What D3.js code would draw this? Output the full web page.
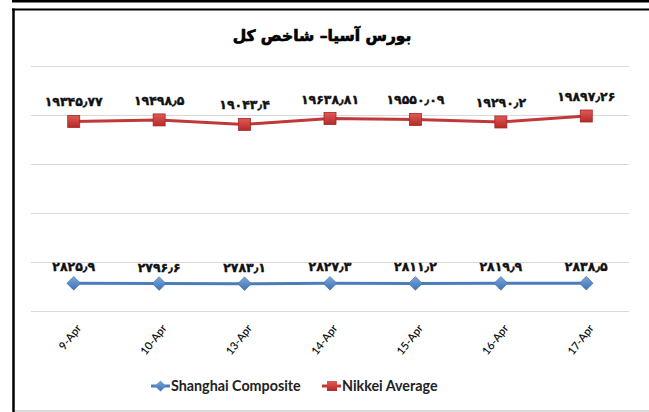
<!DOCTYPE html>
<html><head><meta charset="utf-8">
<script src="https://cdn.jsdelivr.net/npm/d3@7/dist/d3.min.js"></script>
<style>html,body{margin:0;padding:0;background:#fff;}svg{display:block;}</style>
</head><body>
<script>
const title = "بورس آسیا– شاخص کل";
const categories = ["9-Apr","10-Apr","13-Apr","14-Apr","15-Apr","16-Apr","17-Apr"];
const shanghai = [2825.9, 2796.6, 2783.1, 2827.3, 2811.2, 2819.9, 2838.5];
const nikkei = [19345.77, 19498.5, 19043.4, 19638.81, 19550.09, 19290.2, 19897.26];
const shanghaiLabels = ["۲۸۲۵٫۹","۲۷۹۶٫۶","۲۷۸۳٫۱","۲۸۲۷٫۳","۲۸۱۱٫۲","۲۸۱۹٫۹","۲۸۳۸٫۵"];
const nikkeiLabels = ["۱۹۳۴۵٫۷۷","۱۹۴۹۸٫۵","۱۹۰۴۳٫۴","۱۹۶۳۸٫۸۱","۱۹۵۵۰٫۰۹","۱۹۲۹۰٫۲","۱۹۸۹۷٫۲۶"];
const yTicks = [0, 5000, 10000, 15000, 20000, 25000];
const seriesNames = ["Shanghai Composite", "Nikkei Average"];

const W = 649, H = 412;
const svg = d3.select("body").append("svg").attr("width", W).attr("height", H);

// frame
svg.append("rect").attr("x", 12).attr("y", 0).attr("width", W - 12).attr("height", 2.5).attr("fill", "#000");
svg.append("line").attr("x1", 12).attr("x2", W).attr("y1", 9.5).attr("y2", 9.5).attr("stroke", "#000").attr("stroke-width", 2);
svg.append("line").attr("x1", 13.5).attr("x2", 13.5).attr("y1", 8.5).attr("y2", H).attr("stroke", "#000").attr("stroke-width", 2.5);
svg.append("line").attr("x1", 15).attr("x2", W).attr("y1", 411).attr("y2", 411).attr("stroke", "#ccc").attr("stroke-width", 1.5);

const defs = svg.append("defs");
const gR = defs.append("linearGradient").attr("id", "gR").attr("x1", 0).attr("y1", 0).attr("x2", 0).attr("y2", 1);
gR.append("stop").attr("offset", "0").attr("stop-color", "#e05a58");
gR.append("stop").attr("offset", "1").attr("stop-color", "#b42a26");
const gB = defs.append("linearGradient").attr("id", "gB").attr("x1", 0).attr("y1", 0).attr("x2", 0).attr("y2", 1);
gB.append("stop").attr("offset", "0").attr("stop-color", "#7aa6db");
gB.append("stop").attr("offset", "1").attr("stop-color", "#3f72b5");

const x = d3.scaleBand().domain(categories).range([31, 629]);
const y = d3.scaleLinear().domain([0, 25000]).range([311, 66]);
const cx = d => x(d) + x.bandwidth() / 2;

// gridlines
svg.append("g").selectAll("line").data(yTicks).join("line")
  .attr("x1", 31).attr("x2", 629)
  .attr("y1", d => Math.round(y(d)) + 0.5).attr("y2", d => Math.round(y(d)) + 0.5)
  .attr("stroke", "#d9d9d9").attr("stroke-width", 1.2);

// x axis labels
const xAxis = d3.axisBottom(x).tickSize(0).tickPadding(0);
const gx = svg.append("g").attr("transform", "translate(0,311)").call(xAxis);
gx.select(".domain").remove();
gx.selectAll("text")
  .attr("font-family", "Lato, 'Open Sans', sans-serif").attr("font-size", 11).attr("font-weight", 600).attr("fill", "#111")
  .attr("text-anchor", "end").attr("x", 0).attr("y", 0).attr("dy", "0.35em")
  .attr("transform", "translate(5,15) rotate(-52)");

// title
svg.append("text").attr("x", 322).attr("y", 41).attr("text-anchor", "middle")
  .attr("font-family", "'DejaVu Sans', sans-serif").attr("font-weight", "bold").attr("font-size", 15.5)
  .attr("stroke", "#000").attr("stroke-width", 0.7)
  .attr("direction", "rtl").attr("fill", "#000").text(title);

const lineGen = d3.line().x((d, i) => cx(categories[i])).y(d => y(d));

// Nikkei
svg.append("path").datum(nikkei).attr("d", lineGen).attr("fill", "none")
  .attr("stroke", "#c0393a").attr("stroke-width", 3);
svg.append("g").selectAll("rect").data(nikkei).join("rect")
  .attr("x", (d, i) => cx(categories[i]) - 6).attr("y", d => y(d) - 6)
  .attr("width", 12).attr("height", 12).attr("fill", "url(#gR)").attr("stroke", "#a52622").attr("stroke-width", 0.8);
svg.append("g").selectAll("text").data(nikkei).join("text")
  .attr("x", (d, i) => cx(categories[i])).attr("y", d => y(d) - 15)
  .attr("text-anchor", "middle").attr("font-family", "'DejaVu Sans', sans-serif").attr("font-weight", "bold")
  .attr("stroke", "#111").attr("stroke-width", 0.4)
  .attr("font-size", 12.5).attr("fill", "#111").text((d, i) => nikkeiLabels[i]);

// Shanghai
svg.append("path").datum(shanghai).attr("d", lineGen).attr("fill", "none")
  .attr("stroke", "#4a7ebb").attr("stroke-width", 3);
const diamond = d3.symbol().type(d3.symbolDiamond2).size(120);
svg.append("g").selectAll("path").data(shanghai).join("path")
  .attr("transform", (d, i) => `translate(${cx(categories[i])},${y(d)})`)
  .attr("d", diamond).attr("fill", "url(#gB)").attr("stroke", "#3c6eac").attr("stroke-width", 0.6);
svg.append("g").selectAll("text").data(shanghai).join("text")
  .attr("x", (d, i) => cx(categories[i])).attr("y", d => y(d) - 12)
  .attr("text-anchor", "middle").attr("font-family", "'DejaVu Sans', sans-serif").attr("font-weight", "bold")
  .attr("stroke", "#111").attr("stroke-width", 0.4)
  .attr("font-size", 12.5).attr("fill", "#111").text((d, i) => shanghaiLabels[i]);

// legend
const leg = svg.append("g");
const legItems = [
  {name: seriesNames[0], x: 151, color: "#4a7ebb", type: "d"},
  {name: seriesNames[1], x: 322, color: "#c0393a", type: "s"}
];
legItems.forEach(it => {
  leg.append("line").attr("x1", it.x).attr("x2", it.x + 19).attr("y1", 386).attr("y2", 386)
    .attr("stroke", it.color).attr("stroke-width", 3);
  if (it.type === "d") {
    leg.append("path").attr("transform", `translate(${it.x + 9.5},386)`)
      .attr("d", d3.symbol().type(d3.symbolDiamond2).size(80)).attr("fill", "url(#gB)");
  } else {
    leg.append("rect").attr("x", it.x + 5).attr("y", 381).attr("width", 10).attr("height", 10).attr("fill", "url(#gR)");
  }
  leg.append("text").attr("x", it.x + 20).attr("y", 391)
    .attr("font-family", "Lato, 'Open Sans', sans-serif").attr("font-weight", "bold").attr("font-size", 14.3)
    .attr("fill", "#222").text(it.name);
});
</script>
</body></html>
